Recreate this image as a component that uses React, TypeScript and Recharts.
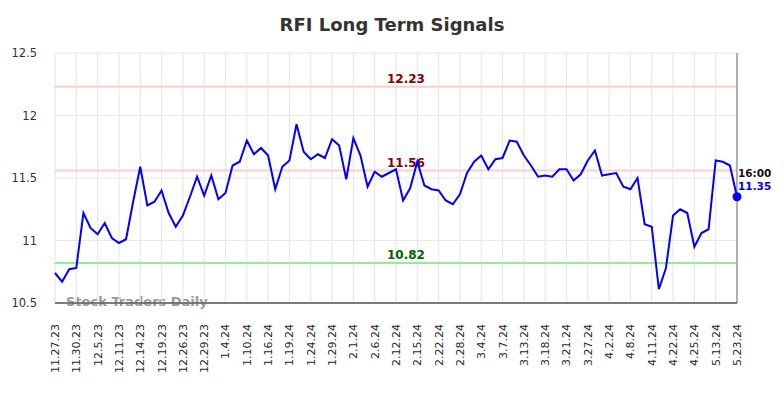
import { LineChart, Line, XAxis, YAxis, CartesianGrid, ReferenceLine } from "recharts";

const dates = [
  "11.27.23", "11.28.23", "11.29.23", "11.30.23", "12.1.23", "12.4.23", "12.5.23", "12.6.23", "12.7.23",
  "12.11.23", "12.12.23", "12.13.23", "12.14.23", "12.15.23", "12.18.23", "12.19.23", "12.20.23", "12.21.23",
  "12.26.23", "12.27.23", "12.28.23", "12.29.23", "1.2.24", "1.3.24", "1.4.24", "1.5.24", "1.8.24",
  "1.10.24", "1.11.24", "1.12.24", "1.16.24", "1.17.24", "1.18.24", "1.19.24", "1.22.24", "1.23.24",
  "1.24.24", "1.25.24", "1.26.24", "1.29.24", "1.30.24", "1.31.24", "2.1.24", "2.2.24", "2.5.24",
  "2.6.24", "2.7.24", "2.8.24", "2.12.24", "2.13.24", "2.14.24", "2.15.24", "2.16.24", "2.20.24",
  "2.22.24", "2.23.24", "2.26.24", "2.28.24", "2.29.24", "3.1.24", "3.4.24", "3.5.24", "3.6.24",
  "3.7.24", "3.8.24", "3.11.24", "3.13.24", "3.14.24", "3.15.24", "3.18.24", "3.19.24", "3.20.24",
  "3.21.24", "3.22.24", "3.25.24", "3.27.24", "3.28.24", "4.1.24", "4.2.24", "4.3.24", "4.4.24",
  "4.8.24", "4.9.24", "4.10.24", "4.11.24", "4.12.24", "4.16.24", "4.22.24", "4.23.24", "4.24.24",
  "4.25.24", "5.1.24", "5.8.24", "5.13.24", "5.16.24", "5.20.24", "5.23.24",
];

const signal = [
  10.74, 10.67, 10.77, 10.78, 11.22, 11.10, 11.05, 11.14, 11.02,
  10.98, 11.01, 11.31, 11.59, 11.28, 11.31, 11.40, 11.22, 11.11,
  11.20, 11.35, 11.51, 11.36, 11.52, 11.33, 11.38, 11.60, 11.63,
  11.80, 11.69, 11.74, 11.68, 11.41, 11.59, 11.64, 11.93, 11.71,
  11.65, 11.69, 11.66, 11.81, 11.76, 11.49, 11.82, 11.68, 11.43,
  11.55, 11.51, 11.54, 11.57, 11.32, 11.42, 11.63, 11.44, 11.41,
  11.40, 11.32, 11.29, 11.37, 11.54, 11.63, 11.68, 11.57, 11.65,
  11.66, 11.80, 11.79, 11.68, 11.60, 11.51, 11.52, 11.51, 11.57,
  11.57, 11.48, 11.53, 11.64, 11.72, 11.52, 11.53, 11.54, 11.43,
  11.41, 11.50, 11.13, 11.11, 10.61, 10.78, 11.20, 11.25, 11.22,
  10.95, 11.06, 11.09, 11.64, 11.63, 11.60, 11.35,
];

const yTicks = [10.5, 11, 11.5, 12, 12.5];
const resistance = [12.23, 11.56];
const support = [10.82];

const chartData = dates.map((date, i) => ({ date, value: signal[i] }));
const lastIdx = chartData.length - 1;
const font = "'DejaVu Sans', sans-serif";

// rotated date labels under the axis
const XTick = (props: any) => {
  const { x, y, payload } = props;
  return (
    <g transform={`translate(${x},${y + 19})`}>
      <text transform="rotate(-90)" textAnchor="end" dy="0.36em" fontSize={11} fill="#2a2a2a" fontFamily={font}>
        {payload.value}
      </text>
    </g>
  );
};

const levelLabel = (value: number, color: string) => (props: any) => {
  const vb = props.viewBox;
  return (
    <text x={406} y={vb.y - 4} textAnchor="middle" fontSize={12} fontWeight="bold" fill={color} fontFamily={font}>
      {value}
    </text>
  );
};

const LastDot = (props: any) => {
  const { cx, cy, index } = props;
  if (index !== lastIdx) return null;
  return (
    <g>
      <circle cx={cx} cy={cy} r={4.5} fill="#0000ff" />
      <text x={cx + 1} y={cy - 20} fontSize={10.5} fontWeight="bold" fill="#111" fontFamily={font}>16:00</text>
      <text x={cx + 1} y={cy - 7} fontSize={10.5} fontWeight="bold" fill="#0000ff" fontFamily={font}>{signal[lastIdx]}</text>
    </g>
  );
};

export default function App() {
  return (
    <div style={{ position: "absolute", left: 0, top: 0, width: 784, height: 398, background: "#fff", fontFamily: font }}>
      <div style={{ position: "absolute", left: 0, top: 14, width: 784, textAlign: "center", fontSize: 18, fontWeight: "bold", color: "#333" }}>
        RFI Long Term Signals
      </div>
      <div style={{ position: "absolute", left: 66, top: 294, fontSize: 13, fontWeight: "bold", color: "#9a9a9a" }}>
        Stock Traders Daily
      </div>
      <div style={{ position: "absolute", left: 0, top: 0 }}>
        <LineChart width={784} height={398} data={chartData} margin={{ top: 53, right: 47, bottom: 0, left: 0 }}>
          <CartesianGrid stroke="#e8e8e8" strokeWidth={1.2} />
          <XAxis
            dataKey="date"
            interval={2}
            tick={<XTick />}
            tickLine={false}
            tickSize={0}
            height={95}
            stroke="#555"
            strokeWidth={1.5}
          />
          <YAxis
            domain={[10.5, 12.5]}
            ticks={yTicks}
            axisLine={false}
            tickLine={false}
            tickSize={0}
            tickMargin={18}
            width={55}
            tick={{ fontSize: 11.5, fill: "#333", fontFamily: font }}
          />
          {resistance.map((v) => (
            <ReferenceLine key={v} y={v} stroke="#ffcccc" strokeWidth={2} label={levelLabel(v, "#8b0000")} />
          ))}
          {support.map((v) => (
            <ReferenceLine key={v} y={v} stroke="#90ee90" strokeWidth={2} label={levelLabel(v, "#006400")} />
          ))}
          <ReferenceLine x={dates[lastIdx]} stroke="#999" strokeWidth={1.5} />
          <Line
            type="linear"
            dataKey="value"
            stroke="#0000ff"
            strokeWidth={2}
            dot={<LastDot />}
            activeDot={false}
            isAnimationActive={false}
          />
        </LineChart>
      </div>
    </div>
  );
}
